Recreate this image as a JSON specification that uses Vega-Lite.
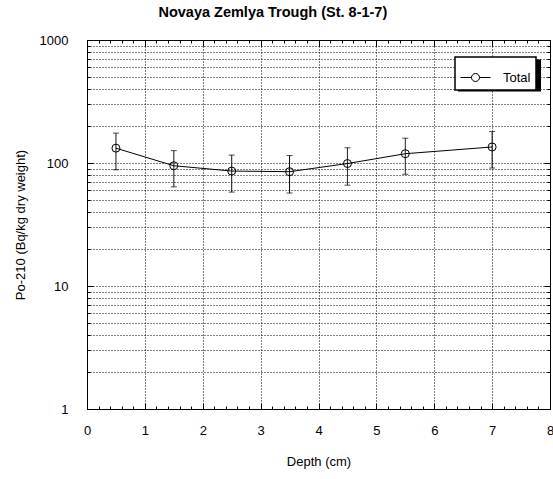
{
  "$schema": "https://vega.github.io/schema/vega-lite/v6.json",
  "autosize": "none",
  "padding": {"left": 87, "top": 40, "right": 3, "bottom": 70},
  "width": 463,
  "height": 369,
  "title": {
    "text": "Novaya Zemlya Trough (St. 8-1-7)",
    "fontSize": 14.5,
    "fontWeight": "bold",
    "frame": "bounds",
    "anchor": "middle",
    "offset": 14,
    "dx": -11,
    "color": "#000"
  },
  "config": {
    "font": "Liberation Sans",
    "view": {"stroke": "#000", "strokeWidth": 1},
    "legend": {"strokeWidth": 1.5},
    "axis": {
      "labelFontSize": 13,
      "labelColor": "#000",
      "titleFontSize": 13,
      "titleFontWeight": "normal",
      "titleColor": "#000",
      "tickColor": "#000",
      "gridColor": "#000",
      "gridDash": [1, 2],
      "gridOpacity": 1,
      "domain": false
    }
  },
  "data": {
    "values": [
      {"depth": 0.5, "po210": 132, "lo": 88, "hi": 175, "series": "Total"},
      {"depth": 1.5, "po210": 95, "lo": 64, "hi": 126, "series": "Total"},
      {"depth": 2.5, "po210": 86, "lo": 58, "hi": 116, "series": "Total"},
      {"depth": 3.5, "po210": 85, "lo": 57, "hi": 115, "series": "Total"},
      {"depth": 4.5, "po210": 99, "lo": 66, "hi": 133, "series": "Total"},
      {"depth": 5.5, "po210": 119, "lo": 81, "hi": 159, "series": "Total"},
      {"depth": 7, "po210": 135, "lo": 91, "hi": 180, "series": "Total"}
    ]
  },
  "resolve": {"axis": {"x": "independent", "y": "independent"}},
  "layer": [
    {
      "mark": {"type": "line", "strokeWidth": 1},
      "encoding": {
        "x": {
          "field": "depth", "type": "quantitative",
          "scale": {"domain": [0, 8], "nice": false, "zero": false},
          "axis": {
            "orient": "bottom",
            "values": [0, 1, 2, 3, 4, 5, 6, 7, 8],
            "grid": true, "ticks": false, "labelPadding": 15,
            "labelFlush": false, "labelOverlap": false,
            "title": "Depth (cm)", "titlePadding": 18
          }
        },
        "y": {
          "field": "po210", "type": "quantitative",
          "scale": {"type": "log", "domain": [1, 1000], "nice": false},
          "axis": {
            "orient": "left",
            "values": [1, 2, 3, 4, 5, 6, 7, 8, 9, 10, 20, 30, 40, 50, 60, 70, 80, 90, 100, 200, 300, 400, 500, 600, 700, 800, 900, 1000],
            "grid": true, "ticks": false, "format": "d",
            "labelExpr": "datum.value == 1 || datum.value == 10 || datum.value == 100 || datum.value == 1000 ? datum.label : ''",
            "labelPadding": 19, "labelFlush": false, "labelOverlap": false,
            "title": "Po-210 (Bq/kg dry weight)", "titlePadding": 12
          }
        },
        "color": {
          "field": "series", "type": "nominal",
          "scale": {"range": ["#000"]},
          "legend": {
            "orient": "none", "legendX": 368, "legendY": 17,
            "title": null, "zindex": 1,
            "fillColor": "#fff", "strokeColor": "#000",
            "padding": 5, "cornerRadius": 0,
            "symbolType": "M-1,0L-0.267,0M0.267,0L1,0M-0.267,0A0.267,0.267,0,1,1,0.267,0A0.267,0.267,0,1,1,-0.267,0Z",
            "symbolSize": 900, "symbolStrokeColor": "#000", "symbolFillColor": "transparent",
            "symbolStrokeWidth": 1,
            "labelFontSize": 13, "labelColor": "#000", "labelOffset": 12
          }
        }
      }
    },
    {
      "mark": {"type": "point", "shape": "circle", "size": 64, "filled": false, "stroke": "#000", "strokeWidth": 1, "opacity": 1},
      "encoding": {
        "x": {
          "field": "depth", "type": "quantitative",
          "scale": {"domain": [0, 8], "nice": false, "zero": false},
          "axis": {
            "orient": "bottom",
            "values": [0, 0.2, 0.4, 0.6, 0.8, 1, 1.2, 1.4, 1.6, 1.8, 2, 2.2, 2.4, 2.6, 2.8, 3, 3.2, 3.4, 3.6, 3.8, 4, 4.2, 4.4, 4.6, 4.8, 5, 5.2, 5.4, 5.6, 5.8, 6, 6.2, 6.4, 6.6, 6.8, 7, 7.2, 7.4, 7.6, 7.8, 8],
            "grid": false, "labels": false, "tickSize": -3, "title": null
          }
        },
        "y": {
          "field": "po210", "type": "quantitative",
          "scale": {"type": "log", "domain": [1, 1000], "nice": false},
          "axis": {
            "orient": "left",
            "values": [1, 2, 3, 4, 5, 6, 7, 8, 9, 10, 20, 30, 40, 50, 60, 70, 80, 90, 100, 200, 300, 400, 500, 600, 700, 800, 900, 1000],
            "grid": false, "labels": false, "tickSize": -3, "title": null
          }
        }
      }
    },
    {
      "mark": {"type": "rule", "color": "#000", "strokeWidth": 1},
      "encoding": {
        "x": {
          "field": "depth", "type": "quantitative",
          "scale": {"domain": [0, 8], "nice": false, "zero": false},
          "axis": {
            "orient": "top",
            "values": [0, 0.2, 0.4, 0.6, 0.8, 1, 1.2, 1.4, 1.6, 1.8, 2, 2.2, 2.4, 2.6, 2.8, 3, 3.2, 3.4, 3.6, 3.8, 4, 4.2, 4.4, 4.6, 4.8, 5, 5.2, 5.4, 5.6, 5.8, 6, 6.2, 6.4, 6.6, 6.8, 7, 7.2, 7.4, 7.6, 7.8, 8],
            "grid": false, "labels": false, "tickSize": -3, "title": null
          }
        },
        "y": {
          "field": "lo", "type": "quantitative",
          "scale": {"type": "log", "domain": [1, 1000], "nice": false},
          "axis": {
            "orient": "right",
            "values": [1, 2, 3, 4, 5, 6, 7, 8, 9, 10, 20, 30, 40, 50, 60, 70, 80, 90, 100, 200, 300, 400, 500, 600, 700, 800, 900, 1000],
            "grid": false, "labels": false, "tickSize": -3, "title": null
          }
        },
        "y2": {"field": "hi"},
        "strokeDash": {
          "datum": "Total",
          "scale": {"range": [[1, 0]]},
          "legend": {
            "orient": "none", "legendX": 371, "legendY": -6,
            "title": null, "zindex": 0,
            "padding": 0,
            "symbolType": "M-1,-0.386L1,-0.386L1,0.386L-1,0.386Z",
            "symbolSize": 6889, "symbolOpacity": 1,
            "symbolFillColor": "#000", "symbolStrokeColor": "#000", "symbolStrokeWidth": 0,
            "labelExpr": "''", "labelOffset": 0, "labelFontSize": 1
          }
        }
      }
    },
    {
      "mark": {"type": "tick", "orient": "horizontal", "color": "#000", "size": 6, "thickness": 1},
      "encoding": {
        "x": {
          "field": "depth", "type": "quantitative",
          "scale": {"domain": [0, 8], "nice": false, "zero": false},
          "axis": {
            "orient": "bottom",
            "values": [0, 1, 2, 3, 4, 5, 6, 7, 8],
            "grid": false, "labels": false, "tickSize": -6, "title": null
          }
        },
        "y": {
          "field": "lo", "type": "quantitative",
          "scale": {"type": "log", "domain": [1, 1000], "nice": false},
          "axis": {
            "orient": "left",
            "values": [1, 10, 100, 1000],
            "grid": false, "labels": false, "tickSize": -6, "title": null
          }
        }
      }
    },
    {
      "mark": {"type": "tick", "orient": "horizontal", "color": "#000", "size": 6, "thickness": 1},
      "encoding": {
        "x": {
          "field": "depth", "type": "quantitative",
          "scale": {"domain": [0, 8], "nice": false, "zero": false},
          "axis": {
            "orient": "top",
            "values": [0, 1, 2, 3, 4, 5, 6, 7, 8],
            "grid": false, "labels": false, "tickSize": -6, "title": null
          }
        },
        "y": {
          "field": "hi", "type": "quantitative",
          "scale": {"type": "log", "domain": [1, 1000], "nice": false},
          "axis": {
            "orient": "right",
            "values": [1, 10, 100, 1000],
            "grid": false, "labels": false, "tickSize": -6, "title": null
          }
        }
      }
    }
  ]
}
